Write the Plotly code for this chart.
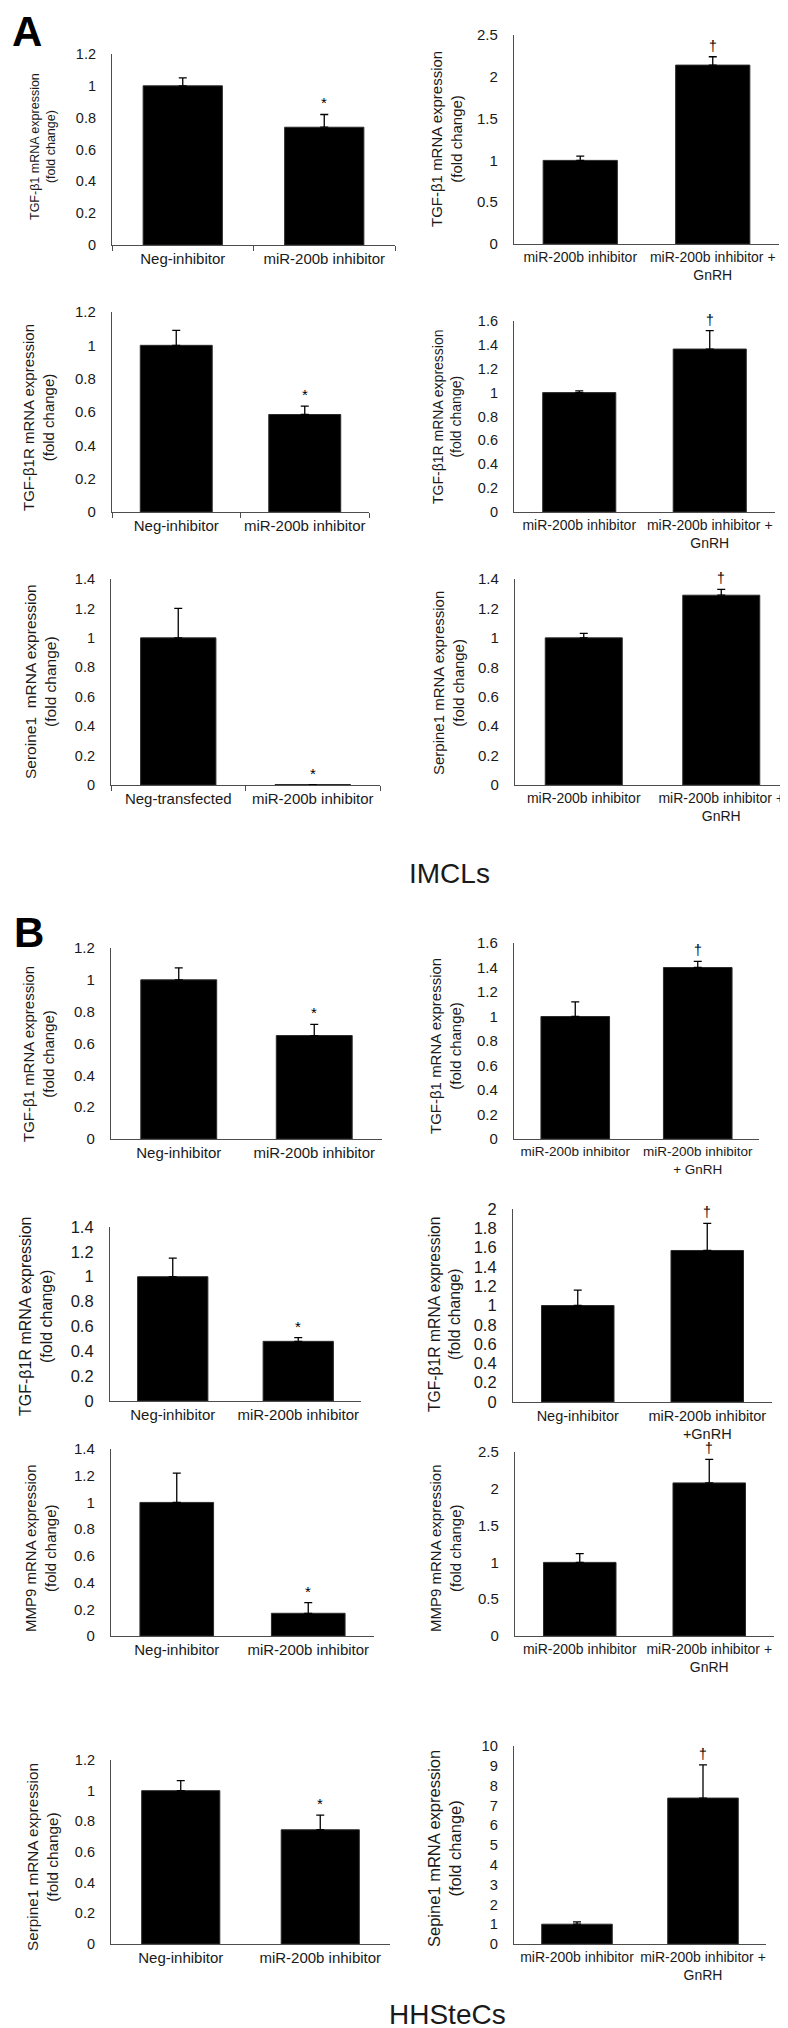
import math
import plotly.graph_objects as go

W, H = 788, 2028

# ---------------- data ----------------
neg_inh = "Neg-inhibitor"
neg_trans = "Neg-transfected"
mir = "miR-200b inhibitor"
mir_gnrh = "miR-200b inhibitor +<br>GnRH"
mir_gnrh_b2 = "miR-200b inhibitor<br>+ GnRH"
mir_gnrh_b4 = "miR-200b inhibitor<br>+GnRH"

# Panel A (IMCLs)
a1_cats = [neg_inh, mir];        a1_vals = [1.0, 0.74];  a1_err = [0.05, 0.08];  a1_sig = ["", "*"]
a2_cats = [mir, mir_gnrh];       a2_vals = [1.0, 2.14];  a2_err = [0.05, 0.10];  a2_sig = ["", "†"]
a3_cats = [neg_inh, mir];        a3_vals = [1.0, 0.585]; a3_err = [0.09, 0.05];  a3_sig = ["", "*"]
a4_cats = [mir, mir_gnrh];       a4_vals = [1.0, 1.365]; a4_err = [0.015, 0.155]; a4_sig = ["", "†"]
a5_cats = [neg_trans, mir];      a5_vals = [1.0, 0.003]; a5_err = [0.20, float("nan")]; a5_sig = ["", "*"]
a6_cats = [mir, mir_gnrh];       a6_vals = [1.0, 1.29];  a6_err = [0.03, 0.04];  a6_sig = ["", "†"]

# Panel B (HHSteCs)
b1_cats = [neg_inh, mir];        b1_vals = [1.0, 0.65];  b1_err = [0.075, 0.07]; b1_sig = ["", "*"]
b2_cats = [mir, mir_gnrh_b2];    b2_vals = [1.0, 1.40];  b2_err = [0.12, 0.05];  b2_sig = ["", "†"]
b3_cats = [neg_inh, mir];        b3_vals = [1.0, 0.48];  b3_err = [0.15, 0.03];  b3_sig = ["", "*"]
b4_cats = [neg_inh, mir_gnrh_b4]; b4_vals = [1.0, 1.57]; b4_err = [0.16, 0.28];  b4_sig = ["", "†"]
b5_cats = [neg_inh, mir];        b5_vals = [1.0, 0.17];  b5_err = [0.22, 0.08];  b5_sig = ["", "*"]
b6_cats = [mir, mir_gnrh];       b6_vals = [1.0, 2.08];  b6_err = [0.12, 0.32];  b6_sig = ["", "†"]
b7_cats = [neg_inh, mir];        b7_vals = [1.0, 0.745]; b7_err = [0.065, 0.095]; b7_sig = ["", "*"]
b8_cats = [mir, mir_gnrh];       b8_vals = [1.0, 7.37];  b8_err = [0.12, 1.68];  b8_sig = ["", "†"]

tgf = "TGF-β1 mRNA expression<br>(fold change)"
tgfr = "TGF-β1R mRNA expression<br>(fold change)"
a5_title = "Seroine1\u00a0 mRNA expression<br>(fold change)"
serp = "Serpine1 mRNA expression<br>(fold change)"
mmp9 = "MMP9 mRNA expression<br>(fold change)"
sepi = "Sepine1 mRNA expression<br>(fold change)"

# ---------------- layout spec (pixel positions) ----------------
panels = [
    # cats, vals, err, sig, x0, x1, ytop, ybot, ymax, dtick, title, tx, ty, tsize, ticksize, catsize, boundary
    (a1_cats, a1_vals, a1_err, a1_sig, 104, 387, 46, 237, 1.2, 0.2, tgf, 35, 139, 12.5, 14.5, 15, True),
    (a2_cats, a2_vals, a2_err, a2_sig, 506, 771, 27, 236, 2.5, 0.5, tgf, 439, 131, 15, 15, 14, False),
    (a3_cats, a3_vals, a3_err, a3_sig, 104, 361, 304, 504, 1.2, 0.2, tgfr, 30, 410, 15, 15, 15, True),
    (a4_cats, a4_vals, a4_err, a4_sig, 506, 767, 313, 504, 1.6, 0.2, tgfr, 439, 409, 14, 14.5, 14, False),
    (a5_cats, a5_vals, a5_err, a5_sig, 103, 372, 571, 777, 1.4, 0.2, a5_title, 32, 674, 15.5, 14.5, 15, True),
    (a6_cats, a6_vals, a6_err, a6_sig, 507, 782, 571, 777, 1.4, 0.2, serp, 440, 675, 15, 15, 14, False),
    (b1_cats, b1_vals, b1_err, b1_sig, 103, 374, 940, 1131, 1.2, 0.2, tgf, 30, 1046, 15, 15, 15, False),
    (b2_cats, b2_vals, b2_err, b2_sig, 506, 751, 935, 1131, 1.6, 0.2, tgf, 437, 1038, 15, 15, 13.5, False),
    (b3_cats, b3_vals, b3_err, b3_sig, 102, 353, 1219, 1393, 1.4, 0.2, tgfr, 28, 1309, 16, 16.5, 15, False),
    (b4_cats, b4_vals, b4_err, b4_sig, 505, 764, 1201, 1394, 2.0, 0.2, tgfr, 436, 1306, 15.7, 16.5, 14.5, False),
    (b5_cats, b5_vals, b5_err, b5_sig, 103, 366, 1441, 1628, 1.4, 0.2, mmp9, 32, 1540, 15, 15, 15, False),
    (b6_cats, b6_vals, b6_err, b6_sig, 507, 766, 1444, 1628, 2.5, 0.5, mmp9, 437, 1540, 15, 15, 14, False),
    (b7_cats, b7_vals, b7_err, b7_sig, 103, 382, 1752, 1936, 1.2, 0.2, serp, 34, 1849, 15.3, 14.5, 15, False),
    (b8_cats, b8_vals, b8_err, b8_sig, 506, 758, 1738, 1936, 10, 1, sepi, 436, 1841, 16.5, 14.7, 14, False),
]

FONT = "Liberation Sans, Arial, sans-serif"
TXT = "#1a1a1a"
AX = "#4d4d4d"

fig = go.Figure()
annotations = []

for i, (cats, vals, err, sig, x0, x1, yt, yb, ymax, dtick, title, tx, ty, tsz, ksz, csz, bnd) in enumerate(panels):
    n = "" if i == 0 else str(i + 1)
    xa, ya = "x" + n, "y" + n
    fig.add_trace(go.Bar(
        x=cats, y=vals, xaxis=xa, yaxis=ya, width=0.56,
        marker=dict(color="black", line=dict(color="#2b2b2b", width=1)),
        error_y=dict(type="data", symmetric=False, array=err, arrayminus=[0, 0],
                     color="black", thickness=1.3, width=4),
        showlegend=False, hoverinfo="x+y",
    ))
    fig.layout["xaxis" + n] = dict(
        domain=[x0 / W, x1 / W], anchor=ya, type="category", range=[-0.5, 1.5],
        showline=True, linecolor=AX, linewidth=1.2, showgrid=False, zeroline=False,
        ticks="outside" if bnd else "", tickson="boundaries" if bnd else "labels",
        ticklen=5, tickcolor=AX, tickangle=0, automargin=False,
        tickfont=dict(family=FONT, size=csz, color=TXT),
        fixedrange=True,
    )
    fig.layout["yaxis" + n] = dict(
        domain=[1 - yb / H, 1 - yt / H], anchor=xa, range=[0, ymax], dtick=dtick,
        tick0=0, showline=True, linecolor=AX, linewidth=1.2, showgrid=False,
        zeroline=False, ticks="", ticklabelstandoff=12, automargin=False,
        tickfont=dict(family=FONT, size=ksz, color=TXT), fixedrange=True,
    )
    annotations.append(dict(
        x=tx / W, y=1 - ty / H, xref="paper", yref="paper", text=title,
        textangle=-90, showarrow=False, xanchor="center", yanchor="middle",
        font=dict(family=FONT, size=tsz, color=TXT),
    ))
    for c, v, e, s in zip(cats, vals, err, sig):
        if s:
            top = v + (0 if (e is None or (isinstance(e, float) and math.isnan(e))) else e)
            annotations.append(dict(
                x=c, y=top, xref=xa, yref=ya, text=s, showarrow=False,
                xanchor="center", yanchor="bottom", yshift=1,
                font=dict(family=FONT, size=15 if s == "*" else 14, color="black"),
            ))

# panel letters and cell-line labels
annotations += [
    dict(x=2 / W, y=1 - 24 / H, xref="paper", yref="paper", text="<b>A</b>",
         showarrow=False, xanchor="left", yanchor="middle",
         font=dict(family=FONT, size=42, color="black")),
    dict(x=4 / W, y=1 - 924 / H, xref="paper", yref="paper", text="<b>B</b>",
         showarrow=False, xanchor="left", yanchor="middle",
         font=dict(family=FONT, size=42, color="black")),
    dict(x=441 / W, y=1 - 865 / H, xref="paper", yref="paper", text="IMCLs",
         showarrow=False, xanchor="center", yanchor="middle",
         font=dict(family=FONT, size=28, color=TXT)),
    dict(x=439 / W, y=1 - 2024 / H, xref="paper", yref="paper", text="HHSteCs",
         showarrow=False, xanchor="center", yanchor="bottom",
         font=dict(family=FONT, size=28, color=TXT)),
]

fig.update_layout(
    width=W, height=H, margin=dict(l=0, r=0, t=0, b=0),
    paper_bgcolor="white", plot_bgcolor="white",
    annotations=annotations, bargap=0.44,
    font=dict(family=FONT, color=TXT),
)

fig.write_html("out.html")
